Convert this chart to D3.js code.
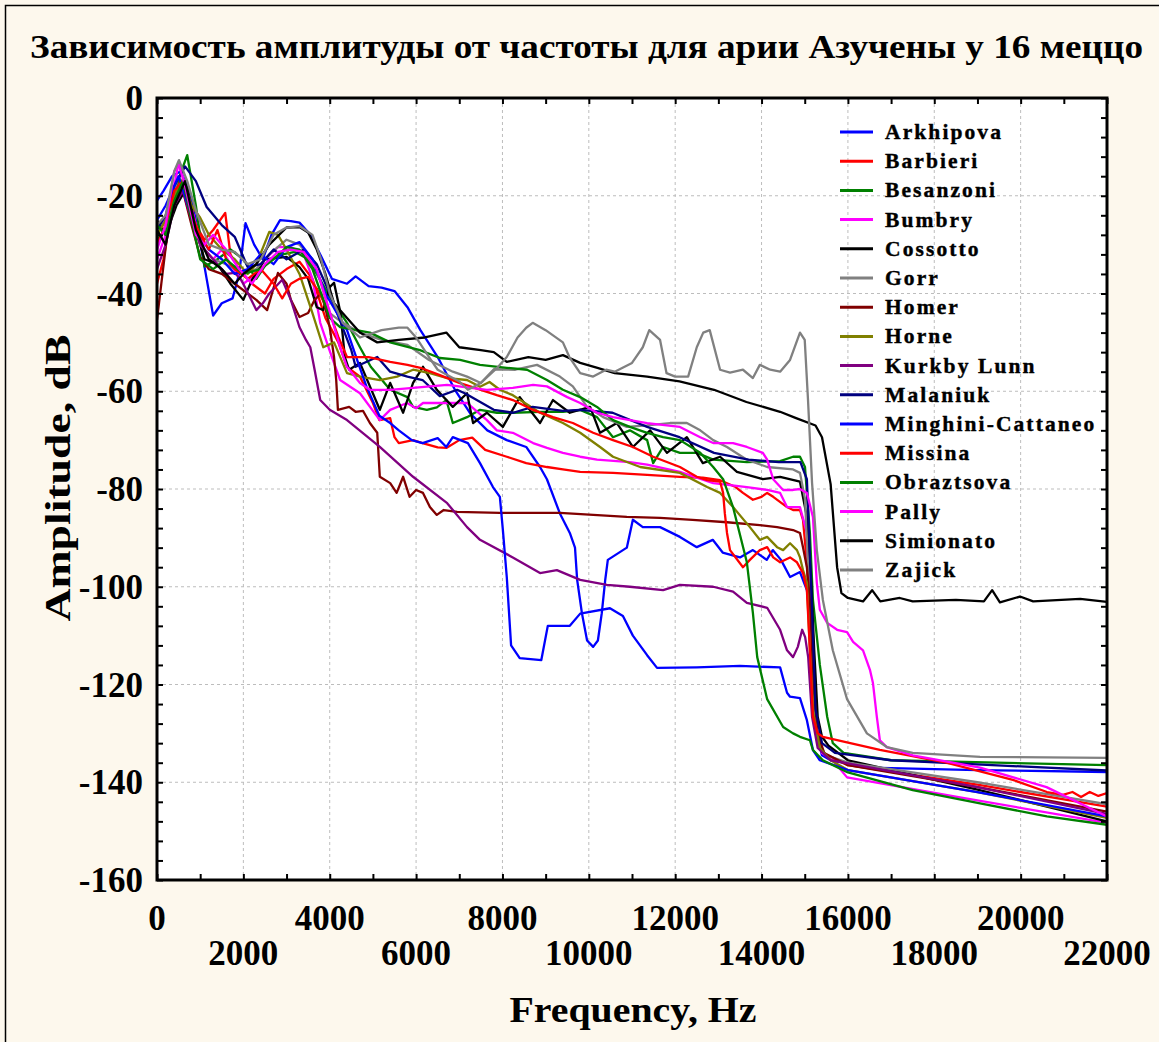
<!DOCTYPE html>
<html>
<head>
<meta charset="utf-8">
<script src="https://cdn.jsdelivr.net/npm/d3@7"></script>
<style>
  html, body { margin: 0; padding: 0; background: #fdf8ed; }
  svg text { font-family: "Liberation Serif", "Times New Roman", serif; font-weight: bold; fill: #000; }
</style>
</head>
<body>
<div id="chart"></div>
<script>
// frequency (Hz), amplitude (dB)
const arkhipova = [[0,-21],[150,-19],[350,-16],[550,-15],[750,-19],[950,-27],[1150,-37],[1300,-44.5],[1500,-42],[1750,-41],[1900,-36],[2050,-25.6],[2250,-30],[2450,-33],[2650,-28],[2850,-25],[3100,-25.2],[3300,-25.5],[3550,-28],[3780,-32],[4050,-37],[4400,-38],[4600,-36.5],[4900,-38.5],[5200,-38.8],[5500,-39.5],[5800,-42.8],[6100,-47.5],[6500,-53],[6900,-59.7],[7250,-64.5],[7650,-68],[8100,-70],[8550,-71.4],[8870,-75.5],[9030,-78],[9330,-85],[9560,-89],[9680,-92],[9730,-98.6],[9840,-105.4],[9960,-111],[10100,-112.3],[10210,-111],[10300,-105.4],[10380,-98.6],[10440,-94.5],[10880,-92],[11020,-86.3],[11250,-87.8],[11650,-87.8],[12110,-89.8],[12500,-91.9],[12870,-90.4],[13100,-93],[13500,-94],[13800,-92.5],[14120,-94.5],[14260,-92.5],[14450,-94.5],[14660,-98],[14890,-97],[15050,-100.7],[15120,-106],[15200,-118],[15280,-130],[15400,-134.5],[15600,-135.5],[16500,-137],[19000,-137.5],[22000,-137.9]];
const barbieri = [[0,-38],[150,-33],[300,-25],[500,-16.8],[700,-19],[900,-26],[1100,-29],[1300,-27],[1580,-23.5],[1700,-32],[1900,-35],[2200,-38],[2500,-40],[2700,-37],[3000,-35],[3300,-33.5],[3600,-37],[3900,-45],[4200,-50],[4400,-55],[4700,-57],[5000,-62.4],[5150,-65.9],[5400,-65.5],[5500,-69.4],[5600,-70.6],[5930,-70],[6150,-70.6],[6500,-71.5],[6700,-71.6],[7000,-70],[7300,-69.5],[7600,-72],[8100,-73.4],[8550,-74.7],[9030,-75.5],[9400,-76],[9800,-76.5],[10560,-76.7],[11350,-77.1],[12110,-77.5],[12640,-77.7],[13040,-78.2],[13400,-79.6],[13570,-80.8],[13800,-82.2],[14000,-81.6],[14130,-80.8],[14270,-81.6],[14590,-83.7],[14730,-84.3],[14890,-84.3],[14960,-86.3],[15050,-95],[15150,-115],[15250,-128],[15350,-133],[15500,-134.5],[16000,-136.5],[19000,-140.5],[22000,-145]];
const besanzoni = [[0,-29],[200,-27],[400,-19],[700,-11.7],[900,-22],[1100,-34.5],[1400,-33],[1700,-31],[2000,-33],[2300,-37],[2600,-33],[2900,-32],[3200,-31.5],[3500,-33],[3780,-37.2],[4000,-40.7],[4400,-46],[4700,-51],[4950,-55],[5400,-59.7],[5800,-61.2],[5930,-63.2],[6250,-63.8],[6480,-63.3],[6700,-61.8],[6850,-66.5],[7180,-65.3],[7480,-63.8],[7870,-64.4],[8240,-64.4],[8870,-64.2],[9400,-64.2],[9800,-63.8],[10190,-65.3],[10560,-69.4],[10950,-68],[11350,-70],[11490,-74.7],[11720,-71.4],[12110,-72.6],[12500,-72.6],[12880,-74],[13660,-74.5],[14430,-74.3],[14730,-73.4],[14890,-73.4],[15006,-75.5],[15120,-89],[15190,-102.7],[15350,-116],[15520,-126.6],[15650,-132],[15900,-134],[17000,-135.5],[22000,-136.5]];
const bumbry = [[0,-33],[200,-28],[400,-18],[500,-13.3],[700,-19],[900,-26],[1100,-31],[1300,-33],[1500,-31],[1700,-34],[2000,-38],[2300,-36],[2500,-33],[2800,-30.5],[3100,-30.5],[3400,-32],[3600,-37],[3780,-46],[4010,-52],[4240,-57.7],[4700,-60.4],[5160,-65.9],[5400,-63.8],[5790,-62.4],[6000,-63.5],[6160,-62.4],[6720,-62.4],[7180,-62.4],[7640,-65.9],[7870,-68],[8240,-68.5],[8710,-70.6],[9030,-71.6],[9400,-72.6],[9800,-73.4],[10190,-74],[10950,-74.5],[11350,-75],[12110,-76.5],[12880,-78.8],[13660,-79.6],[14130,-80.2],[14430,-80.8],[14590,-83.7],[14890,-83.7],[15050,-89],[15150,-110],[15250,-128],[15400,-134],[15650,-135.5],[15980,-139],[18530,-143],[22000,-148.3]];
const cossotto = [[0,-25],[200,-28],[450,-22],[700,-18.2],[900,-27],[1100,-33],[1400,-34],[1700,-38],[2000,-41.3],[2200,-37.2],[2500,-33],[3000,-32.5],[3300,-34.6],[3500,-37],[3700,-42.8],[3850,-43.4],[4000,-38.7],[4100,-37.8],[4250,-44],[4350,-53],[4450,-55.6],[4700,-54.2],[5160,-63.8],[5400,-58.3],[5700,-64.4],[5930,-58.3],[6160,-55],[6480,-59.7],[6850,-63.2],[7180,-60.4],[7320,-66.5],[7640,-64.4],[8010,-67.3],[8400,-61.2],[8870,-66.5],[9170,-61.8],[9560,-64.4],[10030,-63.2],[10260,-68.5],[10650,-66.5],[11020,-71.4],[11420,-68],[11810,-72.6],[12270,-69.4],[12640,-74.7],[13040,-73.4],[13430,-76.5],[14030,-78],[14430,-77.5],[14890,-78.5],[15050,-85.7],[15150,-99],[15220,-113],[15300,-126.6],[15400,-130.7],[15550,-132.5],[16000,-135.5],[19000,-141.5],[22000,-148]];
const gorr = [[0,-28],[200,-25],[500,-16],[700,-20],[1000,-30],[1300,-33],[1600,-34],[2000,-36],[2300,-35],[2600,-32],[3000,-29],[3300,-30],[3600,-33],[3800,-38],[4000,-44],[4300,-46],[4700,-48],[5200,-49.5],[5800,-50.5],[6300,-53.6],[6850,-56],[7180,-57],[7500,-58.3],[7800,-55.5],[8300,-55.6],[8800,-54.6],[9330,-57],[9630,-59],[9960,-63.2],[10330,-65.3],[10880,-67.3],[11350,-67],[11880,-66.5],[12270,-66.5],[12580,-68],[12880,-70],[13200,-71.4],[13660,-74],[14130,-75.5],[14730,-76],[14890,-76.7],[15006,-82],[15100,-100],[15200,-122],[15300,-132],[15500,-134.5],[16000,-136],[19000,-140],[22000,-144.5]];
const homer = [[0,-45.4],[100,-38],[250,-27],[450,-20],[600,-19],[800,-26],[1000,-32.5],[1200,-35],[1500,-36],[1800,-38],[2300,-41.3],[2550,-43.4],[2800,-35.8],[3000,-38],[3100,-41.3],[3300,-44.8],[3500,-44],[3650,-41.3],[3800,-40],[3900,-43],[4000,-46.9],[4100,-53],[4150,-57.7],[4190,-63.8],[4450,-63.2],[4600,-64.2],[4770,-64],[4930,-66.5],[5100,-68.5],[5160,-77.5],[5400,-78.8],[5550,-80.8],[5700,-77.5],[5850,-81.6],[6000,-80.2],[6160,-80.8],[6320,-83.7],[6480,-85.3],[6640,-84.3],[6950,-84.7],[7940,-84.9],[9330,-84.9],[10880,-85.7],[11650,-85.9],[12400,-86.3],[13200,-86.8],[13960,-87.4],[14360,-87.8],[14730,-88.4],[14890,-89],[14960,-91.9],[15050,-96],[15120,-102.7],[15200,-120],[15300,-130],[15450,-134],[16000,-136.5],[19000,-141],[22000,-146]];
const horne = [[0,-28],[200,-25],[400,-20],[600,-16.5],[800,-22],[1000,-24.5],[1200,-28],[1500,-31],[1800,-33],[2100,-36],[2300,-34],[2600,-27.4],[2800,-28],[3000,-31],[3300,-36],[3600,-44],[3850,-51],[4100,-50],[4400,-56.3],[4700,-57],[5160,-57.7],[5560,-57],[5930,-55.6],[6320,-56.3],[6720,-57.3],[7180,-57.7],[7480,-59.1],[7700,-58.1],[7940,-59.7],[8240,-60.8],[8870,-64.4],[9400,-66.5],[9800,-68.5],[10260,-71.4],[10560,-73.4],[11190,-75.5],[12110,-76.7],[12740,-79.6],[13040,-80.8],[13340,-83.7],[13730,-87.8],[13960,-90.4],[14130,-89.8],[14360,-91.9],[14500,-92.5],[14660,-91.1],[14820,-92.5],[14890,-94],[14960,-96.6],[15050,-99.2],[15120,-113],[15200,-126],[15350,-133],[15600,-135.5],[16000,-137.5],[19000,-142],[22000,-147.3]];
const kurkbyLunn = [[0,-35],[200,-30],[400,-22],[600,-19],[800,-25],[1000,-30],[1300,-33],[1600,-36],[1800,-35.8],[1950,-37.2],[2150,-40.7],[2300,-43.4],[2450,-42],[2600,-40],[2900,-37.2],[3100,-41.3],[3300,-46.9],[3450,-49.5],[3550,-51],[3650,-55.6],[3780,-61.8],[4000,-63.8],[4400,-65.9],[5160,-71.4],[5930,-77.5],[6720,-82.9],[7180,-87.8],[7480,-90.4],[8240,-94],[8870,-97.2],[9260,-96.6],[9800,-98.6],[10420,-99.6],[10950,-100],[11720,-100.7],[12110,-99.6],[12880,-100],[13340,-101],[13660,-103.3],[14130,-104.3],[14430,-108.8],[14590,-113],[14730,-114.4],[14840,-112.3],[14940,-108.8],[15010,-110.3],[15080,-114.4],[15170,-126.6],[15300,-133],[15600,-135.5],[19000,-141],[22000,-146.5]];
const malaniuk = [[0,-27],[200,-24],[400,-18],[650,-14],[900,-17],[1150,-22.3],[1500,-26],[1800,-28.4],[2100,-34.6],[2400,-34],[2700,-31],[3000,-33],[3400,-31],[3700,-34],[4000,-40],[4300,-47],[4500,-51.6],[4600,-55],[5100,-53],[5400,-56],[5800,-57],[6150,-57.7],[6550,-61],[6950,-59.7],[7150,-60.5],[7800,-63.8],[8250,-64.4],[8700,-63.2],[9400,-64],[9800,-63.8],[10550,-64.4],[11350,-67.3],[12100,-69.4],[12900,-72.6],[13700,-74],[14400,-74.5],[14900,-74.5],[15050,-78],[15150,-100],[15250,-125],[15400,-132],[15700,-134],[17000,-135.5],[22000,-137.6]];
const minghini = [[0,-25],[200,-22],[500,-16],[900,-27],[1200,-31],[1500,-33],[1800,-36],[2100,-35],[2400,-32],[2700,-34],[3000,-30.5],[3300,-29.5],[3600,-33],[3900,-40],[4400,-47.5],[4650,-54],[4850,-59],[5150,-65],[5400,-66.5],[5600,-68],[5900,-70],[6150,-70.6],[6500,-69.6],[6700,-71.4],[6850,-69.4],[7200,-70.6],[7480,-74.7],[7780,-79.6],[7940,-81.6],[8010,-88.4],[8100,-98],[8200,-112],[8400,-114.6],[8900,-115],[9050,-108],[9560,-108],[9800,-105.5],[10490,-104.4],[10790,-106],[11020,-110],[11350,-114],[11580,-116.6],[12500,-116.5],[13500,-116.2],[14430,-116.5],[14590,-121.7],[14660,-122.5],[14890,-122.8],[15050,-127.3],[15190,-133.4],[15350,-135.5],[16000,-137.5],[19000,-142],[22000,-147]];
const missina = [[0,-30],[200,-26],[400,-19],[600,-17],[800,-24],[1000,-28],[1200,-31],[1400,-27],[1600,-33],[1800,-35],[2100,-37],[2400,-35],[2700,-38],[2900,-41],[3100,-38],[3300,-37],[3500,-36.6],[3700,-39],[4000,-44],[4200,-48.9],[4400,-53],[4900,-53],[5400,-54],[5800,-54.6],[6100,-55.2],[6550,-56.7],[7000,-58.3],[7500,-59.7],[7870,-60.8],[8240,-61.8],[8700,-63.8],[9170,-65.3],[9630,-66.5],[10100,-68.5],[10560,-70],[11020,-71.4],[11490,-73.4],[12110,-75.5],[12500,-77.5],[12740,-78.2],[13040,-78.5],[13110,-80.8],[13150,-85],[13200,-89],[13270,-92.5],[13570,-96],[13730,-94.5],[13960,-92.5],[14130,-91.9],[14270,-94],[14430,-95],[14660,-94],[14820,-95],[14960,-97.2],[15050,-100.7],[15120,-113],[15190,-126.6],[15300,-130],[15420,-130.7],[16740,-133.4],[18280,-136],[19820,-139.5],[20610,-142],[20980,-142.6],[21200,-142],[21400,-143],[21600,-142],[21800,-142.8],[22000,-142.2]];
const obraztsova = [[0,-26],[200,-28],[400,-21],[600,-17],[800,-25],[1000,-33],[1300,-35],[1600,-33],[2000,-36],[2400,-35],[2700,-33],[3000,-30.5],[3300,-31],[3600,-35],[3800,-40],[4000,-45],[4240,-46.9],[4930,-48],[5400,-50],[6090,-51.6],[6550,-53.2],[7020,-53.6],[7480,-54.6],[8100,-55.2],[8570,-55.6],[9030,-57.7],[9400,-59.7],[9800,-61.2],[10190,-63.2],[10560,-65.9],[10950,-67.3],[11350,-68.5],[11720,-69.4],[12110,-70],[12580,-72.6],[12880,-75.5],[13110,-78],[13340,-83.7],[13660,-95],[13800,-105.4],[13900,-114.4],[14130,-123],[14500,-128.7],[14730,-130],[14890,-130.7],[15120,-131.4],[15190,-133.4],[15420,-135.5],[16000,-138],[17500,-141.6],[19060,-144.3],[20610,-147],[22000,-148.7]];
const pally = [[0,-31],[200,-26],[400,-15],[500,-13.5],[650,-18],[900,-28],[1100,-30],[1300,-28],[1600,-31],[1900,-35],[2200,-38],[2500,-34],[2800,-31.5],[3100,-31],[3400,-31.5],[3700,-35],[4010,-44],[4240,-51],[4400,-55],[4700,-58.3],[4930,-59.7],[5400,-59.7],[5930,-59.3],[6320,-59],[6720,-58.7],[7180,-59.2],[7640,-59.7],[8240,-59.3],[8710,-58.7],[9030,-59],[9500,-61.2],[9800,-62.4],[10190,-64.4],[10560,-65.3],[11350,-66.5],[12110,-67.3],[12580,-69.4],[12880,-70.6],[13340,-70.6],[13660,-71.4],[14030,-72.6],[14130,-74],[14270,-78],[14500,-80.2],[14730,-80.2],[14890,-80],[15050,-80.8],[15190,-85.7],[15280,-99.2],[15350,-104.7],[15520,-107.4],[15750,-108.8],[15980,-109.3],[16120,-111.3],[16350,-113],[16510,-117],[16580,-119.7],[16670,-126.6],[16740,-131.4],[16900,-132.8],[17500,-134.5],[19060,-137],[20600,-141],[22000,-147]];
const simionato = [[0,-27],[200,-30],[400,-22],[650,-17],[900,-27],[1200,-33],[1500,-35],[1800,-38],[2000,-36],[2300,-34],[2600,-30],[3000,-26.5],[3300,-26.4],[3500,-27.5],[3700,-31],[3900,-36],[4100,-42],[4400,-45],[4700,-48],[5100,-50],[5600,-49.5],[6200,-49],[6700,-48],[7000,-51],[7500,-51.6],[7800,-52],[8100,-54],[8600,-53],[9000,-53.6],[9400,-52.6],[9800,-54.2],[10200,-55.2],[10600,-56.3],[11350,-57],[12100,-58],[12900,-59.7],[13650,-62.2],[14430,-64.2],[14800,-65.5],[15250,-67],[15400,-69.4],[15600,-79],[15750,-96],[15850,-101.3],[16000,-102.3],[16350,-103],[16560,-100.7],[16750,-103],[17200,-102.3],[17500,-103],[18500,-102.7],[19150,-103],[19340,-100.7],[19520,-103.2],[19985,-102],[20290,-103],[21380,-102.5],[22000,-103.1]];
const zajick = [[0,-26],[200,-24],[400,-15],[510,-12.7],[700,-17],[900,-23],[1200,-30],[1500,-31],[1800,-31.5],[2100,-34],[2400,-33],[2700,-28],[3000,-26.5],[3300,-26.2],[3600,-28],[3800,-33],[4000,-40],[4300,-46],[4700,-49],[5200,-47.5],[5600,-47],[5800,-47],[6000,-49],[6300,-53],[6500,-55.6],[7000,-58],[7200,-59.7],[7500,-58.3],[7900,-55],[8100,-53],[8350,-49],[8550,-47],[8700,-46],[9000,-47.5],[9400,-50],[9550,-53],[9800,-56.3],[10100,-57],[10400,-55.6],[10600,-56],[11000,-54.2],[11250,-51],[11400,-47.5],[11650,-49.5],[11800,-56.3],[12000,-57],[12300,-57],[12500,-51],[12650,-48],[12800,-47.5],[13040,-55.6],[13270,-56.2],[13570,-55.6],[13800,-57.3],[13960,-54.6],[14200,-55.6],[14430,-56],[14660,-53.6],[14890,-48],[15000,-49.5],[15076,-61.8],[15170,-78.8],[15280,-92.5],[15420,-102.7],[15650,-113],[15980,-123],[16440,-130],[16900,-132.8],[17500,-134],[19060,-134.8],[22000,-135]];

const seriesNames = ["Arkhipova","Barbieri","Besanzoni","Bumbry","Cossotto","Gorr","Homer","Horne","Kurkby Lunn","Malaniuk","Minghini-Cattaneo","Missina","Obraztsova","Pally","Simionato","Zajick"];
const seriesValues = [arkhipova, barbieri, besanzoni, bumbry, cossotto, gorr, homer, horne, kurkbyLunn, malaniuk, minghini, missina, obraztsova, pally, simionato, zajick];
const seriesColors = ["#0000ff","#ff0000","#008000","#ff00ff","#000000","#808080","#800000","#808000","#800080","#000080","#0000ff","#ff0000","#008000","#ff00ff","#000000","#808080"];

const xTickRow1 = [0, 4000, 8000, 12000, 16000, 20000];
const xTickRow2 = [2000, 6000, 10000, 14000, 18000, 22000];
const yTickLabels = [0, -20, -40, -60, -80, -100, -120, -140, -160];

const W = 1159, H = 1042;
const svg = d3.select("#chart").append("svg").attr("width", W).attr("height", H);

svg.append("rect").attr("x", 0).attr("y", 0).attr("width", W).attr("height", H).attr("fill", "#fdf8ed");
svg.append("rect").attr("x", 5.5).attr("y", 5.5).attr("width", W + 10).attr("height", H + 10)
    .attr("fill", "none").attr("stroke", "#000").attr("stroke-width", 1.5);

let x = d3.scaleLinear().domain([0, 22000]).range([157, 1107]);
let y = d3.scaleLinear().domain([-160, 0]).range([880, 98]);

// plot area
svg.append("rect").attr("x", 157).attr("y", 98).attr("width", 950).attr("height", 782).attr("fill", "#fff");

// grid
let grid = svg.append("g").attr("stroke", "#bdbdbd").attr("stroke-dasharray", "3,3").attr("stroke-width", 1);
d3.range(2000, 22000, 2000).forEach(v => {
    grid.append("line").attr("x1", x(v)).attr("x2", x(v)).attr("y1", 98).attr("y2", 880);
});
d3.range(-140, 0, 20).forEach(v => {
    grid.append("line").attr("x1", 157).attr("x2", 1107).attr("y1", y(v)).attr("y2", y(v));
});

// curves
svg.append("clipPath").attr("id", "clip").append("rect")
    .attr("x", 157).attr("y", 98).attr("width", 950).attr("height", 782);
let line = d3.line().x(d => x(d[0])).y(d => y(d[1]));
let curves = svg.append("g").attr("clip-path", "url(#clip)");
seriesValues.forEach((vals, i) => {
    curves.append("path").datum(vals)
        .attr("d", line)
        .attr("fill", "none")
        .attr("stroke", seriesColors[i])
        .attr("stroke-width", 2.3)
        .attr("stroke-linejoin", "round");
});

// inward ticks on all four sides
const minorX = d3.range(0, 22001, 1000);
const minorY = d3.range(-160, 1, 4);
svg.append("g").attr("transform", "translate(0,880)")
    .call(d3.axisBottom(x).tickValues(minorX).tickSize(-6).tickFormat(""))
    .call(g => g.select(".domain").remove());
svg.append("g").attr("transform", "translate(0,98)")
    .call(d3.axisTop(x).tickValues(minorX).tickSize(-6).tickFormat(""))
    .call(g => g.select(".domain").remove());
svg.append("g").attr("transform", "translate(157,0)")
    .call(d3.axisLeft(y).tickValues(minorY).tickSize(-6).tickFormat(""))
    .call(g => g.select(".domain").remove());
svg.append("g").attr("transform", "translate(1107,0)")
    .call(d3.axisRight(y).tickValues(minorY).tickSize(-6).tickFormat(""))
    .call(g => g.select(".domain").remove());
svg.selectAll(".tick line").attr("stroke", "#000").attr("stroke-width", 2);

// frame
svg.append("rect").attr("x", 157).attr("y", 98).attr("width", 950).attr("height", 782)
    .attr("fill", "none").attr("stroke", "#000").attr("stroke-width", 3);

// tick labels
svg.append("g").selectAll("text").data(yTickLabels).enter().append("text")
    .attr("x", 143).attr("y", d => y(d) + 12)
    .attr("text-anchor", "end").attr("font-size", 35)
    .text(d => d);
svg.append("g").selectAll("text").data(xTickRow1).enter().append("text")
    .attr("x", d => x(d)).attr("y", 930)
    .attr("text-anchor", "middle").attr("font-size", 35)
    .text(d => d);
svg.append("g").selectAll("text").data(xTickRow2).enter().append("text")
    .attr("x", d => x(d)).attr("y", 965)
    .attr("text-anchor", "middle").attr("font-size", 35)
    .text(d => d);

// titles
svg.append("text").attr("x", 30).attr("y", 58).attr("font-size", 34)
    .attr("textLength", 1113).attr("lengthAdjust", "spacingAndGlyphs")
    .text("Зависимость амплитуды от частоты для арии Азучены у 16 меццо");
svg.append("text").attr("transform", "translate(70,478) rotate(-90)")
    .attr("text-anchor", "middle").attr("font-size", 35)
    .attr("textLength", 287).attr("lengthAdjust", "spacingAndGlyphs")
    .text("Amplitude, dB");
svg.append("text").attr("x", 633).attr("y", 1022)
    .attr("text-anchor", "middle").attr("font-size", 35)
    .attr("textLength", 247).attr("lengthAdjust", "spacingAndGlyphs")
    .text("Frequency, Hz");

// legend
let legend = svg.append("g");
seriesNames.forEach((name, i) => {
    let ly = 132 + i * 29.2;
    legend.append("line").attr("x1", 840).attr("x2", 873).attr("y1", ly).attr("y2", ly)
        .attr("stroke", seriesColors[i]).attr("stroke-width", 3);
    legend.append("text").attr("x", 885).attr("y", ly + 7)
        .attr("font-size", 21.5).attr("letter-spacing", "2.1px")
        .attr("stroke", "#000").attr("stroke-width", 0.4)
        .text(name);
});
</script>
</body>
</html>
